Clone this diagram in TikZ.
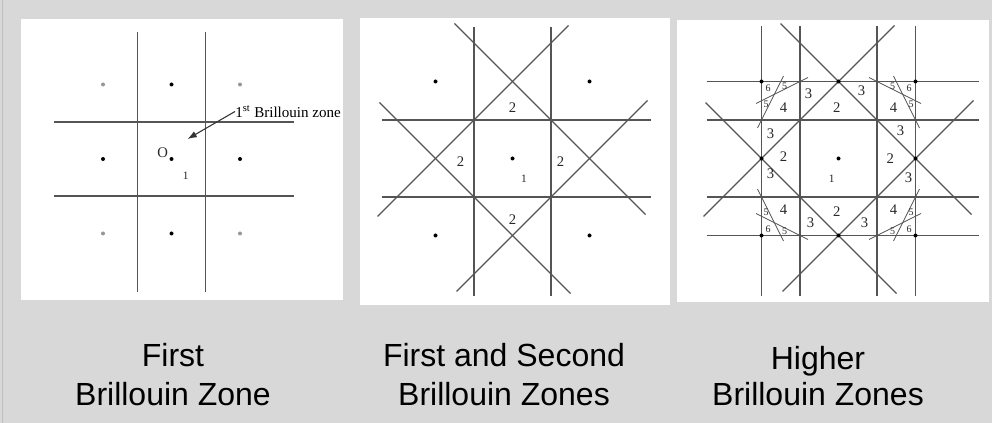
\documentclass[tikz,border=0pt]{standalone}
\usepackage{fontspec}
\setmainfont{Liberation Serif}
\newfontfamily\capfont{Liberation Sans}
\usepackage{tikz}
\usetikzlibrary{arrows.meta}
\definecolor{PageGray}{RGB}{216,216,216}
\definecolor{EdgeGray}{RGB}{190,190,190}
\definecolor{LineGray}{RGB}{85,85,85}
\definecolor{DotGray}{RGB}{150,150,150}
\definecolor{NumGray}{RGB}{40,40,40}

\begin{document}
\begin{tikzpicture}[x=0.75pt,y=-0.75pt,
  bzline/.style={LineGray,line width=1pt},
  bzthin/.style={LineGray,line width=0.6pt},
  zonenum/.style={font=\fontsize{11}{13}\selectfont,text=NumGray,inner sep=0pt},
  onenum/.style={font=\fontsize{8.5}{10}\selectfont,text=NumGray,inner sep=0pt},
  tinynum/.style={font=\fontsize{7.5}{8}\selectfont,text=NumGray,inner sep=0pt},
  caption/.style={font=\capfont\fontsize{24}{29.6}\selectfont,align=center,anchor=base,inner sep=0pt}]
\useasboundingbox(0,0)rectangle(992,423);
\fill[PageGray](0,0)rectangle(992,423);
\draw[EdgeGray,line width=1pt](2.5,0)--(2.5,423);

% first zone
\fill[white](21,19)rectangle(343,300);
\begin{scope}[shift={(171.5,159)}]
\foreach \x in {-34,34}{\draw[bzline](\x,-127)--(\x,133);}
\foreach \y in {-37,37}{\draw[bzline](-117.5,\y)--(122.5,\y);}
\foreach \x/\y/\c in {-68.5/-74.5/DotGray,0/-74.5/black,68.5/-74.5/DotGray,
  -68.5/0/black,0/0/black,68.5/0/black,
  -68.5/74.5/DotGray,0/74.5/black,68.5/74.5/DotGray}{
  \fill[\c](\x,\y)circle[radius=1.5pt];
}
\node[zonenum](origin)at(-8.8,-6.7){O};
\node[onenum](zoneA)at(14.2,16.7){1};
\node[font=\fontsize{11.3}{13}\selectfont,anchor=west,inner sep=0pt](bzname)at(63.5,-47.5){1\textsuperscript{st} Brillouin zone};
\coordinate(bztip)at(16,-20);
\draw[black!80,line width=0.8pt,-{Latex[length=7pt,width=5pt]}](bzname.west)--(bztip);
\end{scope}

% first and second zones
\fill[white](360,18)rectangle(670,305);
\begin{scope}[shift={(512.5,158.5)}]
\foreach \p in {-38.5,38.5}{
  \draw[bzline](\p,-131)--(\p,138);
  \draw[bzline](-131,\p)--(138.5,\p);
}
\foreach \r in {0,90,180,270}{\draw[bzline,rotate=\r](-58,-135)--(133,56);}
\foreach \x/\y in {0/0,-77/-77,77/-77,-77/77,77/77}{\fill(\x,\y)circle[radius=1.5pt];}
\foreach \x/\y [count=\i] in {0/-51,-52/3,48/3,0/61.5}{
  \node[zonenum](twoB\i)at(\x,\y){2};
}
\node[onenum](zoneB)at(11.5,20.5){1};
\end{scope}

% higher zones
\fill[white](677,20)rectangle(989,302);
\begin{scope}[shift={(838.5,158.5)}]
\foreach \p in {-77,-38.5,38.5,77}{
  \draw[bzline](\p,-132)--(\p,138);
  \draw[bzline](-132,\p)--(140,\p);
}
\foreach \r in {0,90,180,270}{\draw[bzline,rotate=\r](-58,-135)--(133,56);}
\foreach \x in {-77,0,77}{
  \foreach \y in {-77,0,77}{\fill(\x,\y)circle[radius=1.5pt];}
}
\foreach \sx/\sy [count=\k] in {1/1,-1/1,1/-1,-1/-1}{
  \begin{scope}[xscale=\sx,yscale=\sy]
    \draw[bzthin](-81,-30.5)--(-55,-82.5);
    \draw[bzthin](-30.5,-81)--(-82.5,-55);
    \node[tinynum](six\k)at(-70.5,-70.5){6};
    \node[tinynum](fiveA\k)at(-54,-72.5){5};
    \node[tinynum](fiveB\k)at(-72.5,-54){5};
    \node[zonenum](four\k)at(-55,-51){4};
  \end{scope}
}
\foreach \x/\y [count=\i] in {-1.6/-50.6,-55/-1.6,51.7/0,-1.6/53.3}{
  \node[zonenum](twoC\i)at(\x,\y){2};
}
\foreach \x/\y [count=\i] in {-30/-65,23/-68,62/-28,-68/-25,-68/15,70/19,-28/64,26/64}{
  \node[zonenum](three\i)at(\x,\y){3};
}
\node[onenum](zoneC)at(-6.7,20){1};
\end{scope}

% captions
\node[caption](capA)at(173,406){First\\Brillouin Zone};
\node[caption](capB)at(504,406){First and Second\\Brillouin Zones};
\node[caption](capC)at(818,406){Higher\\[-2.5pt]Brillouin Zones};
\end{tikzpicture}
\end{document}
